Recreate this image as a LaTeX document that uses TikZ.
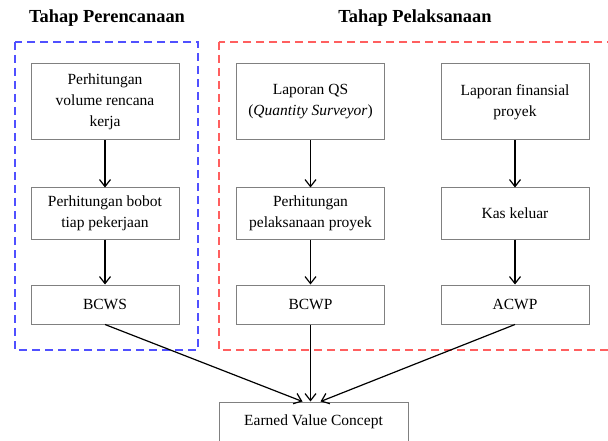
\documentclass[tikz,border=0pt]{standalone}
\usepackage{fontspec}
\setmainfont{Liberation Serif}
\usetikzlibrary{arrows.meta}

\tikzset{
  kotak/.style={draw=gray, line width=1pt, fill=white, align=center,
    minimum width=148pt, font=\fontsize{15.5}{21}\selectfont},
  judul/.style={font=\fontsize{18.4}{22}\selectfont\bfseries},
  panah/.style={-{Straight Barb[length=7pt,width=11pt]}, line width=1.2pt}
}

\begin{document}
\begin{tikzpicture}[x=1pt,y=-1pt]
        \useasboundingbox (0,0) rectangle (608,441);

        % Judul tahap
        \node[judul] (jdlrencana) at (107,18) {Tahap Perencanaan};
        \node[judul] (jdllaksana) at (415,18) {Tahap Pelaksanaan};

        % Kotak garis putus-putus
        \draw[dash pattern=on 8pt off 5pt, draw={rgb,255:red,80;green,80;blue,255}, line width=1.3pt] (15,42) rectangle (198,350);
        \draw[dash pattern=on 8pt off 5pt, draw={rgb,255:red,255;green,95;blue,95}, line width=1.3pt] (219,42) rectangle (616,350);

        % Kolom perencanaan
        \node[kotak, minimum height=76pt] (volume) at (105,102) {Perhitungan\\volume rencana\\kerja};
        \node[kotak, minimum height=51pt] (bobot) at (105,213.5) {Perhitungan bobot\\tiap pekerjaan};
        \node[kotak, minimum height=39pt] (bcws) at (105,304.5) {BCWS};

        % Kolom laporan QS
        \node[kotak, minimum height=76pt] (qs) at (310.5,102) {Laporan QS\\(\textit{Quantity Surveyor})};
        \node[kotak, minimum height=51pt] (pelaksanaan) at (310.5,213.5) {Perhitungan\\pelaksanaan proyek};
        \node[kotak, minimum height=39pt] (bcwp) at (310.5,304.5) {BCWP};

        % Kolom laporan finansial
        \node[kotak, minimum height=76pt] (finansial) at (515,102) {Laporan finansial\\proyek};
        \node[kotak, minimum height=51pt] (kas) at (515,213.5) {Kas keluar};
        \node[kotak, minimum height=39pt] (acwp) at (515,304.5) {ACWP};

        % Hasil akhir
        \node[kotak, minimum width=189pt, minimum height=40pt] (evc) at (313.5,422) {Earned Value Concept};

        % Panah
        \draw[panah] (volume) -- (bobot);
        \draw[panah] (bobot) -- (bcws);
        \draw[panah] (qs) -- (pelaksanaan);
        \draw[panah] (pelaksanaan) -- (bcwp);
        \draw[panah] (finansial) -- (kas);
        \draw[panah] (kas) -- (acwp);
        \draw[panah] (bcws.south) -- ([xshift=-11pt]evc.north);
        \draw[panah] (bcwp.south) -- ([xshift=-3pt]evc.north);
        \draw[panah] (acwp.south) -- ([xshift=7pt]evc.north);
\end{tikzpicture}
\end{document}
